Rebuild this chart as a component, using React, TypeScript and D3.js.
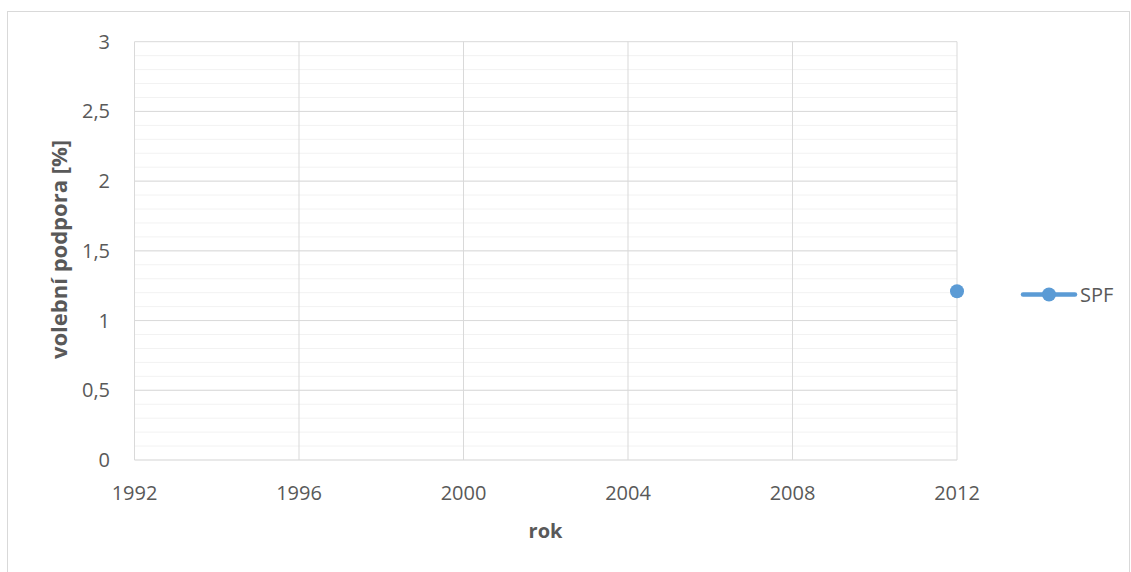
import React from "react";
import * as d3 from "d3";

const seriesName = "SPF";
const years = [2012];
const values = [1.21];
const xTicks = [1992, 1996, 2000, 2004, 2008, 2012];
const yTicks = [0, 0.5, 1, 1.5, 2, 2.5, 3];
const yMinorTicks = d3.range(0, 30).map((i) => i / 10);

const W = 1131;
const H = 572;
const left = 134.5;
const right = 957;
const top = 41.7;
const bottom = 460;
const FONT = "'Open Sans', 'Noto Sans', sans-serif";
const BLUE = "#5B9BD5";
const TXT = "#595959";

export default function App() {
  const x = d3.scaleLinear().domain([1992, 2012]).range([left, right]);
  const y = d3.scaleLinear().domain([0, 3]).range([bottom, top]);
  const fmt = (v: number) => String(v).replace(".", ",");
  return (
    <svg width={W} height={H} style={{ position: "absolute", left: 0, top: 0, background: "#fff" }}>
      <rect x={7.5} y={11.5} width={1122} height={600} fill="#fff" stroke="#d9d9d9" strokeWidth={1} />
      {yMinorTicks.map((t) => (
        <line key={"m" + t} x1={left} x2={right} y1={y(t)} y2={y(t)} stroke="#f2f2f2" strokeWidth={1} />
      ))}
      {yTicks.map((t) => (
        <line key={"g" + t} x1={left} x2={right} y1={y(t)} y2={y(t)} stroke="#d9d9d9" strokeWidth={1} />
      ))}
      {xTicks.map((t) => (
        <line key={"v" + t} x1={x(t)} x2={x(t)} y1={top} y2={bottom} stroke="#d9d9d9" strokeWidth={1} />
      ))}
      {yTicks.map((t) => (
        <text key={"yl" + t} x={110} y={y(t) + 7} textAnchor="end" fontFamily={FONT} fontSize={20} fill={TXT}>
          {fmt(t)}
        </text>
      ))}
      {xTicks.map((t) => (
        <text key={"xl" + t} x={x(t)} y={499.5} textAnchor="middle" fontFamily={FONT} fontSize={20} fill={TXT}>
          {t}
        </text>
      ))}
      <text x={545.5} y={538} textAnchor="middle" fontFamily={FONT} fontSize={20} fontWeight="bold" fill={TXT}>
        rok
      </text>
      <text
        transform={`translate(67,249.5) rotate(-90)`}
        textAnchor="middle"
        fontFamily={FONT}
        fontSize={22}
        fontWeight="bold"
        fill={TXT}
      >
        volební podpora [%]
      </text>
      {years.map((yr, i) => (
        <circle key={"p" + yr} cx={x(yr)} cy={y(values[i])} r={7} fill={BLUE} />
      ))}
      <line x1={1023} x2={1075} y1={294.5} y2={294.5} stroke={BLUE} strokeWidth={4.5} strokeLinecap="round" />
      <circle cx={1049} cy={294.5} r={7} fill={BLUE} />
      <text x={1080} y={301.5} fontFamily={FONT} fontSize={20} fill={TXT}>
        {seriesName}
      </text>
    </svg>
  );
}
